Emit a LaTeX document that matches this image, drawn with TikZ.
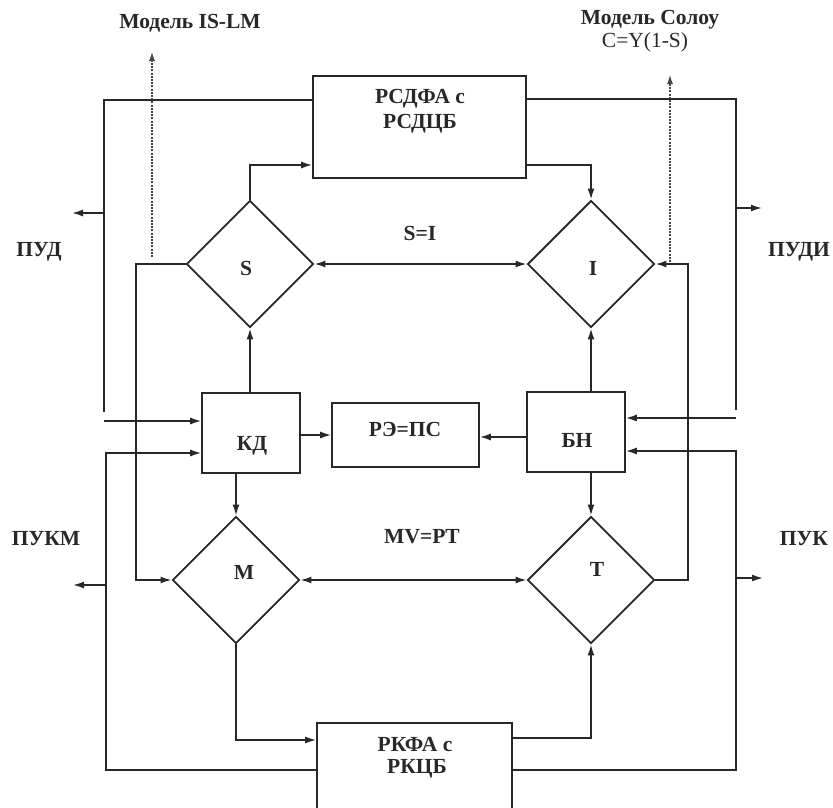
\documentclass[tikz,border=0pt]{standalone}
\usepackage{fontspec}
\setmainfont{Liberation Serif}
\usetikzlibrary{shapes.geometric,arrows.meta,calc}
\definecolor{linec}{RGB}{40,40,40}
\definecolor{textc}{RGB}{40,40,40}
\definecolor{dotc}{RGB}{70,70,70}
\begin{document}
\begin{tikzpicture}[x=1pt,y=-1pt,
  line/.style={line width=1.6pt, draw=linec},
  arr/.style={line, -{Latex[length=11pt,width=7pt]}},
  darr/.style={line, {Latex[length=11pt,width=7pt]}-{Latex[length=11pt,width=7pt]}},
  dotline/.style={line width=1.1pt, draw=dotc, dash pattern=on 2pt off 1.2pt, -{Latex[length=9pt,width=6pt]}},
  box/.style={draw=linec, line width=1.6pt, rectangle, inner sep=0pt},
  dia/.style={draw=linec, line width=1.9pt, diamond, minimum width=127pt, minimum height=127pt, inner sep=0pt},
  lbl/.style={font=\bfseries\fontsize{21.5}{24}\selectfont, text=textc, inner sep=0pt},
  lblr/.style={font=\fontsize{21.5}{24}\selectfont, text=textc, inner sep=0pt},
]
\useasboundingbox (0,0) rectangle (833,807);
\fill[white] (0,0) rectangle (833,807);

% boxes
\node[box, minimum width=213pt, minimum height=102pt] (rsd) at (419.5,127) {};
\node[box, minimum width=195pt, minimum height=110pt] (rkfa) at (414.5,778) {};
\node[box, minimum width=98pt, minimum height=80pt] (kd) at (251,433) {};
\node[box, minimum width=147pt, minimum height=64pt] (re) at (405.5,435) {};
\node[box, minimum width=98pt, minimum height=80pt] (bn) at (576,432) {};

% diamonds
\node[dia] (S) at (250,264) {};
\node[dia] (I) at (591,264) {};
\node[dia] (M) at (236,580) {};
\node[dia] (T) at (591,580) {};

% texts
\node[lbl] (tislm) at (190,23) {Модель IS-LM};
\node[lbl] (tsol) at (650,20) {Модель Солоу};
\node[lblr] (tcy) at (645,42) {C=Y(1-S)};
\node[lbl] (trsd1) at (420,99) {РСДФА с};
\node[lbl] (trsd2) at (420,124) {РСДЦБ};
\node[lbl] (trk1) at (415,744) {РКФА с};
\node[lbl] (trk2) at (417,769) {РКЦБ};
\node[lbl] (tsi) at (420,233) {S=I};
\node[lbl] (tmv) at (422,537) {MV=PT};
\node[lbl] (tpud) at (39,252) {ПУД};
\node[lbl] (tpudi) at (799,252) {ПУДИ};
\node[lbl] (tpukm) at (46,539) {ПУКМ};
\node[lbl] (tpuk) at (804,539) {ПУК};
\node[lbl] (tkd) at (252,446) {КД};
\node[lbl] (tre) at (405,429) {РЭ=ПС};
\node[lbl] (tbn) at (577,440) {БН};
\node[lbl] (ts) at (246,268) {S};
\node[lbl] (ti) at (593,268) {I};
\node[lbl] (tm) at (244,572) {M};
\node[lbl] (tt) at (597,569) {T};

% free-end coordinates
\coordinate (l1) at (104,412);
\coordinate (l1b) at (104,421);
\coordinate (pud1) at (104,213);
\coordinate (pud2) at (72,213);
\coordinate (l2) at (136,580);
\coordinate (is1) at (152,257);
\coordinate (is2) at (152,52);
\coordinate (r1) at (736,410);
\coordinate (r1b) at (736,418);
\coordinate (pudi1) at (736,208);
\coordinate (pudi2) at (762,208);
\coordinate (ri) at (688,264);
\coordinate (so1) at (670,262);
\coordinate (so2) at (670,75);
\coordinate (l3) at (106,453);
\coordinate (pukm1) at (106,585);
\coordinate (pukm2) at (73,585);
\coordinate (r2) at (736,451);
\coordinate (puk1) at (736,578);
\coordinate (puk2) at (763,578);

% top-left loop
\draw[line] (rsd.west |- 0,100) -| (l1);
\draw[arr] (l1b) -- (kd.west |- l1b);
\draw[arr] (pud1) -- (pud2);
\draw[arr] (S.north) |- (rsd.west |- 0,165);
\draw[arr] (S.west) -| (l2) -- (M.west);
\draw[dotline] (is1) -- (is2);
\draw[darr] (S.east) -- (I.west);

% top-right loop
\draw[line] (rsd.east |- 0,99) -| (r1);
\draw[arr] (r1b) -- (bn.east |- r1b);
\draw[arr] (pudi1) -- (pudi2);
\draw[arr] (rsd.east |- 0,165) -| (I.north);
\draw[arr] (T.east) -| (ri) -- (I.east);
\draw[dotline] (so1) -- (so2);

% middle
\draw[arr] (S.south |- kd.north) -- (S.south);
\draw[arr] (kd.east |- 0,435) -- (re.west |- 0,435);
\draw[arr] (bn.west |- 0,437) -- (re.east |- 0,437);
\draw[arr] (I.south |- bn.north) -- (I.south);
\draw[arr] (T.north |- bn.south) -- (T.north);
\draw[arr] (M.north |- kd.south) -- (M.north);
\draw[darr] (M.east) -- (T.west);

% bottom loops
\draw[arr] (rkfa.west |- 0,770) -| (l3) -- (kd.west |- l3);
\draw[arr] (pukm1) -- (pukm2);
\draw[arr] (M.south) |- (rkfa.west |- 0,740);
\draw[arr] (rkfa.east |- 0,738) -| (T.south);
\draw[arr] (rkfa.east |- 0,770) -| (r2) -- (bn.east |- r2);
\draw[arr] (puk1) -- (puk2);
\end{tikzpicture}
\end{document}
